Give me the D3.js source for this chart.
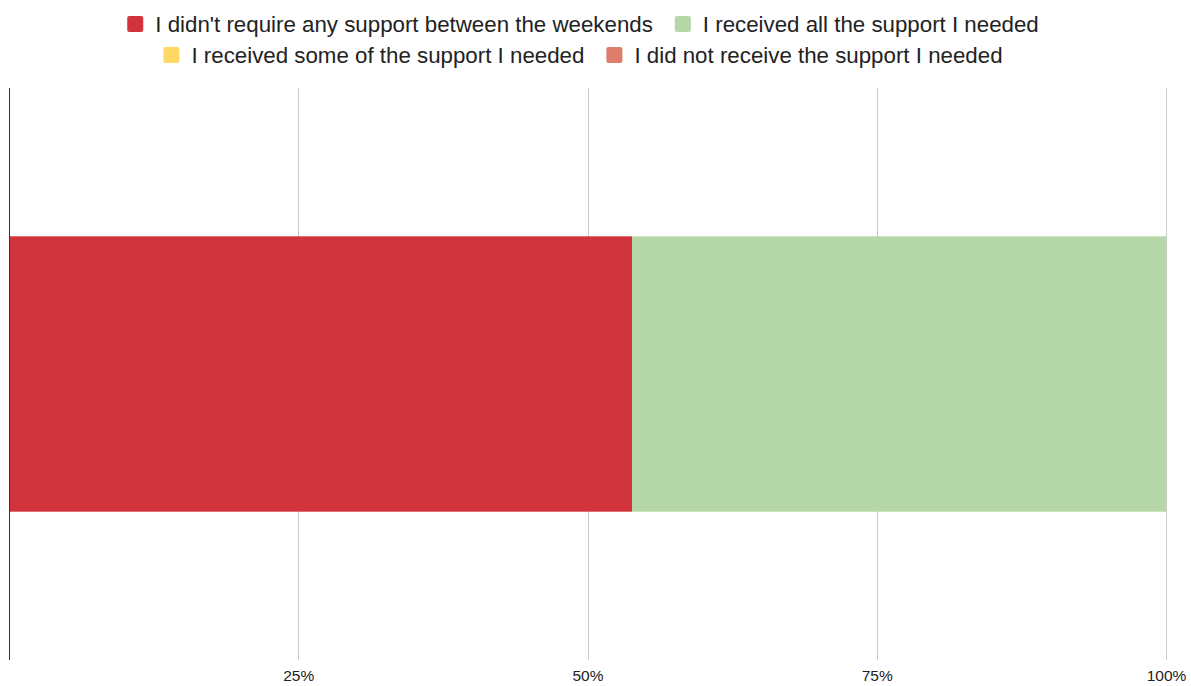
<!DOCTYPE html>
<html>
<head>
<meta charset="utf-8">
<script src="https://cdn.jsdelivr.net/npm/d3@7"></script>
<style>
  html, body { margin: 0; padding: 0; background: #fff; }
  svg { display: block; font-family: "Liberation Sans", Arial, sans-serif; }
</style>
</head>
<body>
<svg id="chart" width="1191" height="686"></svg>
<script>
// Responses (share of respondents)
const categories = ["Responses"];
const seriesNames = [
  "I didn't require any support between the weekends",
  "I received all the support I needed",
  "I received some of the support I needed",
  "I did not receive the support I needed"
];
const seriesColors = ["#d1343d", "#b6d7a8", "#ffd966", "#dd7e6b"];
const seriesValues = [7, 6, 0, 0];
const tickValues = [0.25, 0.5, 0.75, 1];
const tickLabels = ["25%", "50%", "75%", "100%"];

const svg = d3.select("#chart");
const width = 1191, height = 686;
const margin = { top: 88, right: 25, bottom: 26, left: 9 };
const plotW = width - margin.left - margin.right;
const plotH = height - margin.top - margin.bottom;

const total = d3.sum(seriesValues);
const rows = categories.map(c => {
  const r = { category: c };
  seriesNames.forEach((s, i) => r[s] = seriesValues[i] / total);
  return r;
});
const stacked = d3.stack().keys(seriesNames)(rows);

const x = d3.scaleLinear().domain([0, 1]).range([margin.left, margin.left + plotW]);
const y = d3.scaleBand().domain(categories).range([margin.top, margin.top + plotH]).padding(0.35);

// gridlines
svg.append("g")
  .selectAll("line")
  .data(tickValues)
  .join("line")
  .attr("x1", d => Math.round(x(d)) + 0.5)
  .attr("x2", d => Math.round(x(d)) + 0.5)
  .attr("y1", margin.top)
  .attr("y2", margin.top + plotH)
  .attr("stroke", "#cccccc")
  .attr("stroke-width", 1);

// stacked bars
svg.append("g")
  .selectAll("g")
  .data(stacked)
  .join("g")
  .attr("fill", (d, i) => seriesColors[i])
  .selectAll("rect")
  .data(d => d)
  .join("rect")
  .attr("x", d => x(d[0]))
  .attr("width", d => x(d[1]) - x(d[0]))
  .attr("y", d => y(d.data.category))
  .attr("height", y.bandwidth());

// baseline
svg.append("line")
  .attr("x1", x(0) + 0.5).attr("x2", x(0) + 0.5)
  .attr("y1", margin.top).attr("y2", margin.top + plotH)
  .attr("stroke", "#333333").attr("stroke-width", 1);

// x-axis labels
const xAxis = d3.axisBottom(x)
  .tickValues(tickValues)
  .tickFormat((d, i) => tickLabels[i])
  .tickSize(0)
  .tickPadding(10);
const ax = svg.append("g")
  .attr("transform", `translate(0,${margin.top + plotH})`)
  .call(xAxis);
ax.select(".domain").remove();
ax.selectAll("text")
  .attr("font-family", "'Liberation Sans', Arial, sans-serif")
  .attr("font-size", 15.5)
  .attr("fill", "#222222");

// legend, two centered rows
const legendRows = [[0, 1], [2, 3]];
const legendY = [24, 55];
const legendCenter = 583;
const legend = svg.append("g").attr("font-size", 22.3).attr("fill", "#222222");
legendRows.forEach((idxs, r) => {
  const row = legend.append("g");
  let cx = 0;
  idxs.forEach((i, k) => {
    const item = row.append("g").attr("transform", `translate(${cx},0)`);
    item.append("rect")
      .attr("x", 0).attr("y", legendY[r] - 8)
      .attr("width", 16).attr("height", 16)
      .attr("rx", 2)
      .attr("fill", seriesColors[i]);
    const t = item.append("text")
      .attr("x", 28).attr("y", legendY[r])
      .attr("dy", "0.35em")
      .text(seriesNames[i]);
    const w = t.node().getComputedTextLength();
    cx += 28 + w + 22;
  });
  const rowW = cx - 22;
  row.attr("transform", `translate(${legendCenter - rowW / 2},0)`);
});
</script>
</body>
</html>
